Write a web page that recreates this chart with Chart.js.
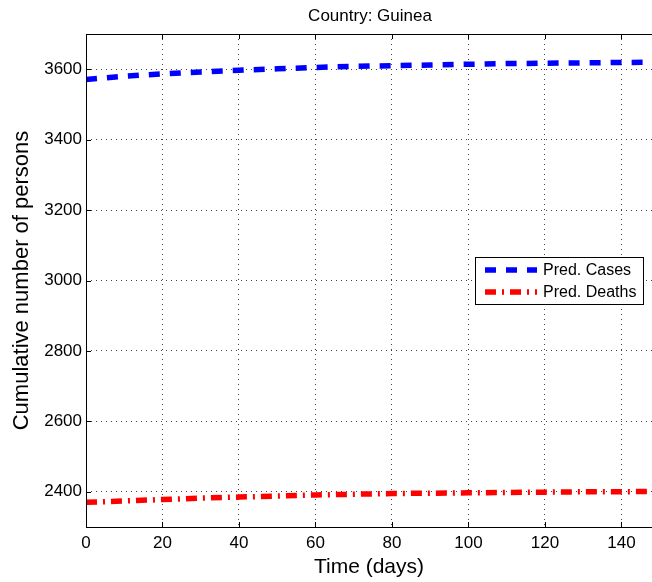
<!DOCTYPE html>
<html>
<head>
<meta charset="utf-8">
<script src="https://cdn.jsdelivr.net/npm/chart.js@4"></script>
<style>
  body { margin: 0; background: #fff; }
  canvas { display: block; }
</style>
</head>
<body>
<canvas id="guineaChart" width="652" height="582"></canvas>
<script>
const days = [0, 10, 20, 30, 40, 50, 60, 70, 80, 90, 100, 110, 120, 130, 140, 148];
const predCases = [3571, 3580, 3587, 3592, 3597, 3601, 3605, 3608, 3610, 3612, 3614, 3616, 3617, 3618, 3619, 3620];
const predDeaths = [2370, 2374, 2378, 2382, 2385, 2388, 2391, 2393, 2395, 2396, 2397, 2398, 2399, 2400, 2400, 2401];
const xTicks = [0, 20, 40, 60, 80, 100, 120, 140];
const yTicks = [2400, 2600, 2800, 3000, 3200, 3400, 3600];
const chartTitle = "Country: Guinea";

const FONT = "'Liberation Sans', Arial, sans-serif";

// MATLAB-like frame: solid axes, top border, inward tick marks, title, boxed legend
const framePlugin = {
    id: "frame",
    afterDraw(chart) {
        const ctx = chart.ctx;
        const a = chart.chartArea;
        const xs = chart.scales.x, ys = chart.scales.y;
        ctx.save();
        ctx.strokeStyle = "#000";
        ctx.lineWidth = 1;
        ctx.setLineDash([]);
        ctx.beginPath();
        ctx.moveTo(a.left, a.top + 0.5);
        ctx.lineTo(a.right, a.top + 0.5);
        ctx.moveTo(a.left + 0.5, a.top);
        ctx.lineTo(a.left + 0.5, a.bottom);
        ctx.moveTo(a.left, a.bottom + 0.5);
        ctx.lineTo(a.right, a.bottom + 0.5);
        xTicks.forEach(v => {
            const px = Math.round(xs.getPixelForValue(v)) + 0.5;
            ctx.moveTo(px, a.bottom); ctx.lineTo(px, a.bottom - 5);
            ctx.moveTo(px, a.top); ctx.lineTo(px, a.top + 5);
        });
        yTicks.forEach(v => {
            const py = Math.round(ys.getPixelForValue(v)) + 0.5;
            ctx.moveTo(a.left, py); ctx.lineTo(a.left + 5, py);
        });
        ctx.stroke();

        // title, centred on the (uncropped) axes
        ctx.fillStyle = "#000";
        ctx.font = "17px " + FONT;
        ctx.textAlign = "center";
        ctx.textBaseline = "middle";
        ctx.fillText(chartTitle, 370, 16);

        // legend
        const bx = 475, by = 257, bw = 168, bh = 47;
        ctx.fillStyle = "#fff";
        ctx.fillRect(bx, by, bw, bh);
        ctx.strokeRect(bx + 0.5, by + 0.5, bw, bh);
        ctx.textAlign = "left";
        chart.data.datasets.forEach((ds, i) => {
            const y = by + 13 + i * 22;
            ctx.beginPath();
            ctx.strokeStyle = ds.borderColor;
            ctx.lineWidth = ds.borderWidth;
            ctx.setLineDash(ds.borderDash);
            ctx.moveTo(bx + 10, y);
            ctx.lineTo(bx + 62, y);
            ctx.stroke();
            ctx.setLineDash([]);
            ctx.fillStyle = "#000";
            ctx.font = "16px " + FONT;
            ctx.fillText(ds.label, bx + 68, y + 1);
        });
        ctx.restore();
    }
};

const keepTicks = list => scale => {
    scale.ticks = list.map(v => ({ value: v }));
};

new Chart(document.getElementById("guineaChart"), {
    type: "line",
    data: {
        datasets: [{
            label: "Pred. Cases",
            data: days.map((d, i) => ({ x: d, y: predCases[i] })),
            borderColor: "#0000ff",
            borderWidth: 5.5,
            borderDash: [11, 10],
            borderCapStyle: "butt",
            pointRadius: 0,
            fill: false
        }, {
            label: "Pred. Deaths",
            data: days.map((d, i) => ({ x: d, y: predDeaths[i] })),
            borderColor: "#ff0000",
            borderWidth: 5.5,
            borderDash: [11, 6, 2, 6],
            borderCapStyle: "butt",
            pointRadius: 0,
            fill: false
        }]
    },
    options: {
        responsive: false,
        animation: false,
        layout: { padding: { left: 9, right: 0, top: 34, bottom: 0 } },
        plugins: {
            legend: { display: false },
            tooltip: { enabled: false },
            title: { display: false }
        },
        scales: {
            x: {
                type: "linear",
                min: 0,
                max: 148,
                afterBuildTicks: keepTicks(xTicks),
                afterFit(scale) { scale.height = 55; },
                border: { display: false, dash: [1, 4] },
                grid: { color: "#444", drawTicks: false },
                ticks: { color: "#000", padding: 6, font: { family: FONT, size: 17 }, maxRotation: 0,
                         callback: v => String(v) },
                title: { display: true, text: "Time (days)", color: "#000", padding: { top: 0, bottom: 2 }, font: { family: FONT, size: 21 } }
            },
            y: {
                min: 2300,
                max: 3700,
                afterBuildTicks: keepTicks(yTicks),
                afterFit(scale) { scale.width = 77; },
                border: { display: false, dash: [1, 4] },
                grid: { color: "#444", drawTicks: false },
                ticks: { color: "#000", padding: 4, font: { family: FONT, size: 17 },
                         callback: v => String(v) },
                title: { display: true, text: "Cumulative number of persons", color: "#000", padding: { top: 0, bottom: 4 }, font: { family: FONT, size: 22 } }
            }
        }
    },
    plugins: [framePlugin]
});
</script>
</body>
</html>
